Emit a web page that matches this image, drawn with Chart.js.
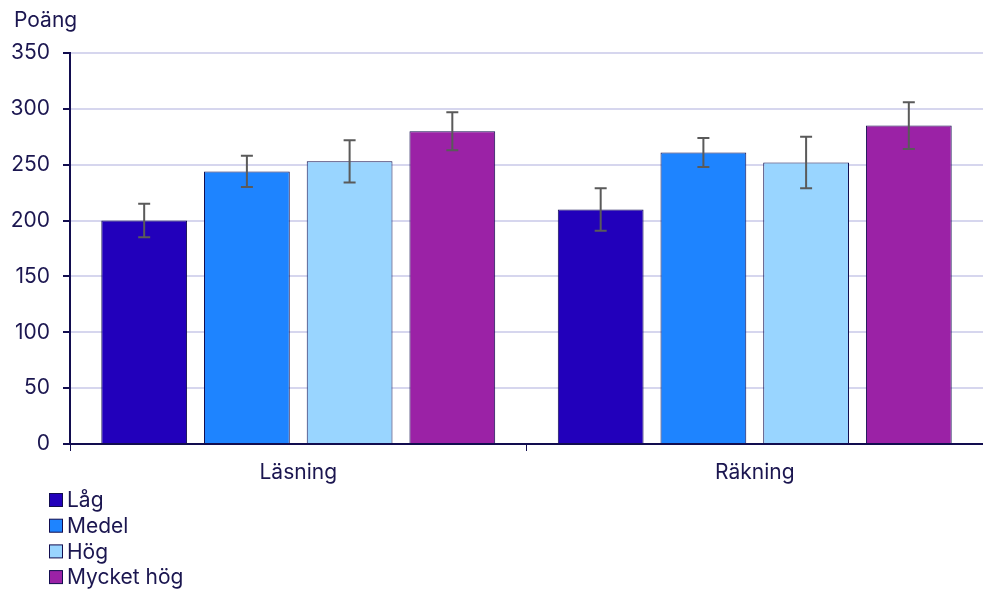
<!DOCTYPE html>
<html>
<head>
<meta charset="utf-8">
<script src="https://cdn.jsdelivr.net/npm/chart.js@4"></script>
<style>
  html, body { margin: 0; padding: 0; background: #fff; }
  #wrap { width: 983px; height: 589px; position: relative; }
</style>
</head>
<body>
<div id="wrap"><canvas id="chart" width="983" height="589"></canvas></div>
<script>
// data
const categories = ['Läsning', 'Räkning'];
const seriesNames = ['Låg', 'Medel', 'Hög', 'Mycket hög'];
const lag = [200, 210];
const medel = [244, 261];
const hog = [253, 252];
const mycketHog = [280, 285];
const lagErr = [15, 19];
const medelErr = [14, 13];
const hogErr = [19, 23];
const mycketHogErr = [17, 21];
const yTicks = [0, 50, 100, 150, 200, 250, 300, 350];

const colors = ['#2200bb', '#1e84ff', '#99d5ff', '#9b22a6'];
const textColor = '#1b1650';
const axisColor = '#120d4f';
const font = { family: 'Inter', size: 21 };

const errorBars = {
    id: 'errorBars',
    afterDatasetsDraw(chart) {
        const ctx = chart.ctx;
        const y = chart.scales.y;
        ctx.save();
        ctx.strokeStyle = '#5a5a5a';
        ctx.lineWidth = 2;
        chart.data.datasets.forEach((ds, i) => {
            chart.getDatasetMeta(i).data.forEach((bar, j) => {
                const v = ds.data[j];
                const e = ds.errors[j];
                const top = y.getPixelForValue(v + e);
                const bottom = y.getPixelForValue(v - e);
                ctx.beginPath();
                ctx.moveTo(bar.x, top);
                ctx.lineTo(bar.x, bottom);
                ctx.moveTo(bar.x - 6, top);
                ctx.lineTo(bar.x + 6, top);
                ctx.moveTo(bar.x - 6, bottom);
                ctx.lineTo(bar.x + 6, bottom);
                ctx.stroke();
            });
        });
        ctx.restore();
    }
};

const extras = {
    id: 'extras',
    afterDraw(chart) {
        const ctx = chart.ctx;
        ctx.save();
        ctx.font = '21px Inter';
        ctx.fillStyle = textColor;
        ctx.textBaseline = 'middle';
        ctx.textAlign = 'left';
        ctx.fillText('Poäng', 14, 21);
        chart.data.datasets.forEach((ds, i) => {
            const cy = 500 + i * 25.7;
            ctx.fillStyle = ds.backgroundColor;
            ctx.fillRect(49.5, cy - 6.5, 13, 13);
            ctx.strokeStyle = axisColor;
            ctx.lineWidth = 1;
            ctx.strokeRect(49.5, cy - 6.5, 13, 13);
            ctx.fillStyle = textColor;
            ctx.fillText(ds.label, 67, cy + 1);
        });
        ctx.restore();
    }
};

const values = [lag, medel, hog, mycketHog];
const errs = [lagErr, medelErr, hogErr, mycketHogErr];

new Chart(document.getElementById('chart'), {
    type: 'bar',
    data: {
        labels: categories,
        datasets: seriesNames.map((name, i) => ({
            label: name,
            data: values[i],
            errors: errs[i],
            backgroundColor: colors[i],
            borderColor: axisColor,
            borderWidth: 1,
            categoryPercentage: 0.9,
            barPercentage: 0.835
        }))
    },
    options: {
        responsive: false,
        animation: false,
        layout: { padding: { top: 53, right: 0, bottom: 100, left: 0 } },
        scales: {
            x: {
                afterFit(scale) { scale.height = 45; },
                grid: {
                    drawOnChartArea: false,
                    drawTicks: true,
                    tickLength: 7,
                    color: axisColor
                },
                border: { color: axisColor, width: 2 },
                ticks: { color: textColor, font: font, padding: 9 }
            },
            y: {
                min: 0,
                max: 350,
                afterBuildTicks(scale) {
                    scale.ticks = yTicks.map(v => ({ value: v }));
                },
                afterFit(scale) { scale.width = 70; },
                grid: {
                    color: '#d6d6ee',
                    lineWidth: 2,
                    tickColor: axisColor,
                    tickLength: 7
                },
                border: { color: axisColor, width: 2 },
                ticks: { color: textColor, font: font, padding: 13 }
            }
        },
        plugins: {
            legend: { display: false },
            tooltip: { enabled: false }
        }
    },
    plugins: [errorBars, extras]
});
</script>
</body>
</html>
